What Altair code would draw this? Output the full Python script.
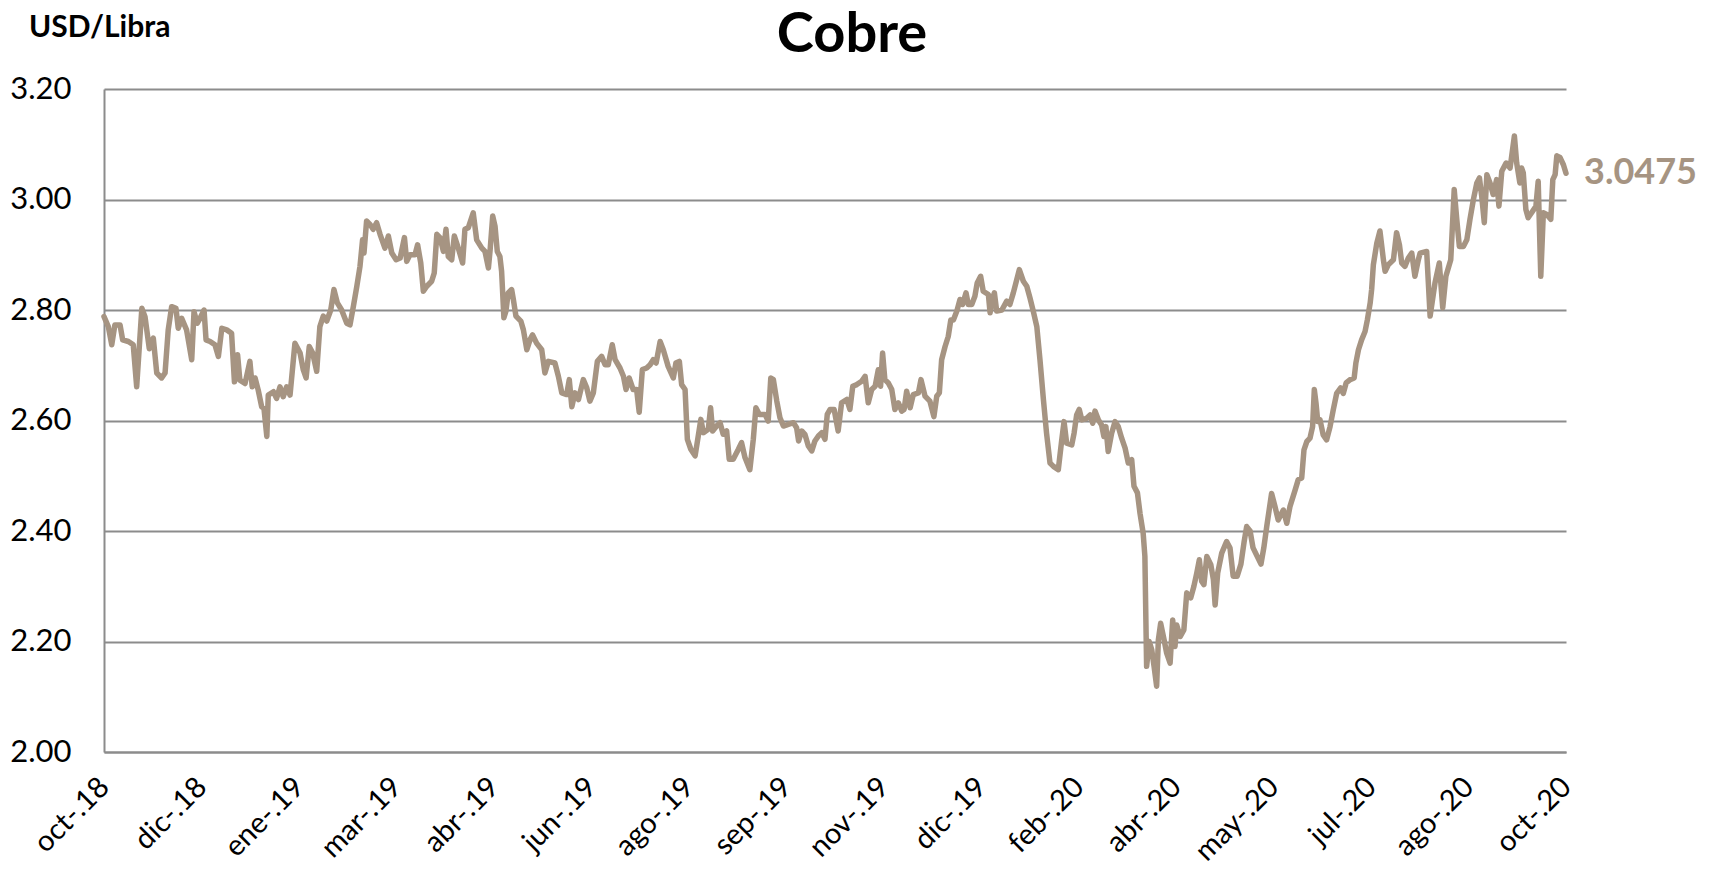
import altair as alt
import pandas as pd
import json

# Trading-day position (0 = start of oct-18, 510 = oct-20) and copper price USD/lb
t_days = [
    0.0, 1.5, 2.7, 3.8, 5.6, 6.5, 8.5, 10.2, 11.4, 13.2, 14.3, 15.8, 17.2, 18.4, 20.1, 21.3,
    22.4, 23.6, 25.1, 25.9, 27.1, 28.8, 30.6, 31.4, 32.5, 33.5, 34.9, 35.6, 37.0, 38.7, 39.9,
    41.1, 42.8, 44.5, 45.5, 46.6, 47.4, 49.2, 50.9, 51.7, 52.7, 53.8, 55.0, 55.8, 56.8, 57.3,
    59.1, 60.2, 61.4, 62.5, 63.7, 64.9, 66.6, 68.4, 69.5, 70.5, 71.6, 72.8, 74.2, 75.3, 76.5,
    77.7, 79.1, 80.2, 81.4, 82.9, 84.7, 85.8, 87.0, 88.2, 89.3, 90.2, 90.7, 91.6, 92.8, 93.9,
    95.1, 96.3, 98.0, 99.2, 100.4, 101.9, 103.3, 104.8, 105.6, 106.7, 108.5, 109.4, 110.5,
    111.4, 112.6, 114.3, 115.2, 116.1, 117.2, 118.4, 119.3, 120.1, 121.3, 122.2, 123.6, 125.1,
    125.9, 127.1, 128.8, 130.0, 131.8, 132.9, 134.1, 134.7, 135.6, 136.4, 137.2, 138.1, 138.7,
    139.5, 140.2, 141.0, 142.2, 142.8, 143.7, 145.4, 146.3, 147.5, 148.6, 149.5, 150.9, 152.7,
    153.8, 155.0, 157.3, 158.5, 159.7, 161.4, 162.3, 163.2, 164.3, 165.5, 167.2, 168.4, 169.5,
    170.7, 172.1, 173.6, 174.8, 175.9, 177.3, 178.3, 180.0, 181.2, 182.1, 183.2, 184.6, 185.8,
    186.7, 187.8, 189.3, 190.5, 191.6, 192.6, 194.0, 195.1, 196.8, 198.6, 199.5, 200.7, 201.5,
    202.7, 203.5, 204.7, 206.2, 207.3, 208.2, 209.1, 210.8, 211.6, 212.3, 213.7, 214.9, 216.0,
    217.2, 218.1, 219.5, 221.3, 222.4, 223.6, 225.3, 226.5, 227.4, 228.6, 230.6, 231.7, 232.6,
    233.5, 234.7, 235.8, 237.0, 238.7, 240.5, 241.6, 242.3, 243.4, 244.5, 245.7, 246.9, 248.0,
    249.2, 250.4, 251.5, 252.3, 253.3, 254.7, 256.1, 257.3, 259.1, 260.2, 261.2, 262.6, 264.3,
    265.5, 266.6, 267.8, 269.0, 270.1, 270.9, 271.6, 272.4, 273.6, 274.8, 275.9, 277.1, 278.3,
    279.1, 280.0, 281.2, 282.3, 284.1, 285.0, 286.4, 288.1, 289.5, 290.5, 291.4, 292.2, 293.4,
    294.5, 295.4, 296.3, 297.5, 298.6, 299.5, 300.7, 301.5, 302.7, 303.8, 304.6, 305.8, 306.7,
    308.5, 309.1, 309.7, 310.6, 311.4, 313.2, 314.9, 316.0, 317.2, 318.4, 319.3, 320.7, 321.9,
    323.0, 324.2, 325.4, 326.5, 327.7, 328.8, 330.0, 331.2, 332.9, 334.1, 334.9, 335.8, 337.6,
    338.4, 339.3, 340.2, 341.1, 342.8, 344.0, 344.9, 345.7, 346.9, 348.0, 348.8, 349.5, 350.3,
    351.5, 352.7, 353.8, 355.0, 356.2, 357.3, 358.5, 359.3, 360.5, 361.4, 362.5, 363.1, 363.7,
    364.6, 365.5, 366.3, 367.2, 367.8, 368.6, 369.8, 370.7, 371.9, 372.8, 373.6, 374.2, 375.4,
    376.7, 377.7, 379.1, 380.2, 381.2, 382.1, 382.9, 383.7, 384.7, 386.1, 387.0, 387.6, 388.5,
    389.9, 391.6, 392.8, 393.9, 395.3, 396.6, 397.7, 398.6, 399.8, 400.8, 402.2, 403.6, 404.6,
    405.6, 407.3, 408.5, 409.6, 411.4, 412.6, 413.7, 415.5, 416.6, 417.8, 418.6, 419.6, 420.7,
    421.6, 422.2, 422.8, 423.4, 424.2, 425.3, 426.5, 427.7, 428.8, 430.0, 431.4, 432.3, 433.3,
    434.7, 436.1, 436.7, 437.6, 438.7, 439.9, 440.7, 441.7, 442.2, 442.8, 444.0, 445.1, 446.3,
    446.9, 448.0, 449.8, 450.9, 451.9, 452.7, 453.8, 455.0, 456.2, 457.3, 458.5, 459.1, 461.4,
    462.6, 464.3, 465.8, 467.0, 468.1, 469.8, 471.0, 471.9, 472.8, 474.2, 475.4, 476.5, 477.7,
    478.9, 479.8, 480.6, 481.5, 482.4, 483.5, 484.6, 485.8, 486.6, 487.6, 489.1, 490.5, 492.0,
    492.8, 493.9, 494.5, 495.1, 496.0, 496.8, 498.0, 499.5, 500.3, 501.2, 502.1, 503.3, 504.7,
    505.4, 506.2, 506.8, 507.9, 509.1, 510.0,
]

price = [
    2.788, 2.770, 2.737, 2.773, 2.773, 2.746, 2.743, 2.737, 2.661, 2.803, 2.788, 2.730, 2.749, 2.686, 2.677, 2.686,
    2.764, 2.806, 2.803, 2.767, 2.785, 2.764, 2.710, 2.797, 2.776, 2.785, 2.800, 2.746, 2.743, 2.737, 2.716,
    2.767, 2.764, 2.758, 2.670, 2.719, 2.673, 2.667, 2.707, 2.661, 2.677, 2.655, 2.625, 2.622, 2.571, 2.646,
    2.652, 2.640, 2.661, 2.643, 2.661, 2.646, 2.740, 2.722, 2.692, 2.677, 2.734, 2.722, 2.689, 2.770, 2.789,
    2.780, 2.800, 2.837, 2.813, 2.800, 2.776, 2.773, 2.807, 2.843, 2.879, 2.927, 2.903, 2.961, 2.955, 2.946,
    2.958, 2.937, 2.912, 2.934, 2.903, 2.891, 2.894, 2.931, 2.888, 2.900, 2.900, 2.918, 2.885,
    2.834, 2.843, 2.852, 2.867, 2.937, 2.931, 2.906, 2.946, 2.897, 2.891, 2.934, 2.912, 2.885,
    2.946, 2.949, 2.976, 2.927, 2.912, 2.906, 2.876, 2.909, 2.970, 2.952, 2.906, 2.897, 2.870,
    2.786, 2.798, 2.831, 2.837, 2.819, 2.789, 2.780, 2.764, 2.728, 2.746, 2.755, 2.740, 2.728,
    2.686, 2.707, 2.704, 2.680, 2.650, 2.647, 2.674, 2.625, 2.650, 2.638, 2.674, 2.659, 2.635,
    2.650, 2.707, 2.716, 2.701, 2.701, 2.737, 2.710, 2.695, 2.680, 2.656, 2.677, 2.656, 2.656,
    2.615, 2.692, 2.695, 2.701, 2.710, 2.704, 2.743, 2.728, 2.698, 2.677, 2.704, 2.707, 2.665,
    2.656, 2.566, 2.548, 2.536, 2.572, 2.602, 2.578, 2.584, 2.623, 2.581, 2.590, 2.596, 2.575,
    2.581, 2.530, 2.530, 2.548, 2.560, 2.533, 2.511, 2.566, 2.623, 2.611, 2.611, 2.599, 2.677,
    2.674, 2.635, 2.605, 2.590, 2.593, 2.596, 2.587, 2.563, 2.581, 2.575, 2.554, 2.545, 2.563,
    2.572, 2.578, 2.566, 2.611, 2.620, 2.620, 2.581, 2.632, 2.638, 2.620, 2.662, 2.665, 2.671,
    2.680, 2.632, 2.656, 2.662, 2.692, 2.662, 2.722, 2.674, 2.668, 2.656, 2.620, 2.632, 2.617,
    2.620, 2.653, 2.623, 2.647, 2.650, 2.674, 2.644, 2.635, 2.607, 2.644, 2.650, 2.710, 2.734,
    2.752, 2.782, 2.782, 2.798, 2.819, 2.810, 2.831, 2.810, 2.810, 2.825, 2.849, 2.861, 2.834,
    2.828, 2.795, 2.816, 2.831, 2.798, 2.800, 2.816, 2.810, 2.831, 2.855, 2.873, 2.852, 2.843,
    2.822, 2.797, 2.770, 2.710, 2.638, 2.577, 2.523, 2.517, 2.511, 2.565, 2.598, 2.559, 2.556,
    2.577, 2.610, 2.620, 2.601, 2.604, 2.610, 2.595, 2.617, 2.601, 2.592, 2.571, 2.589, 2.544,
    2.577, 2.598, 2.589, 2.568, 2.550, 2.523, 2.529, 2.481, 2.469, 2.432, 2.396, 2.354, 2.155,
    2.200, 2.185, 2.155, 2.119, 2.203, 2.233, 2.203, 2.179, 2.161, 2.239, 2.191, 2.230, 2.209,
    2.221, 2.288, 2.279, 2.300, 2.324, 2.348, 2.309, 2.303, 2.354, 2.339, 2.312, 2.266, 2.324,
    2.360, 2.381, 2.369, 2.318, 2.318, 2.340, 2.380, 2.408, 2.400, 2.370, 2.355, 2.340, 2.370,
    2.408, 2.468, 2.444, 2.420, 2.438, 2.414, 2.444, 2.474, 2.493, 2.496, 2.547, 2.562, 2.568,
    2.589, 2.656, 2.631, 2.598, 2.601, 2.574, 2.565, 2.589, 2.619, 2.649, 2.659, 2.649, 2.668,
    2.674, 2.677, 2.704, 2.728, 2.746, 2.761, 2.782, 2.813, 2.837, 2.882, 2.921, 2.943, 2.891,
    2.870, 2.882, 2.891, 2.940, 2.918, 2.885, 2.879, 2.894, 2.903, 2.861, 2.891, 2.903, 2.906,
    2.789, 2.849, 2.885, 2.804, 2.861, 2.891, 3.018, 2.964, 2.915, 2.915, 2.927, 2.964, 3.000,
    3.030, 3.039, 3.006, 2.958, 3.045, 3.030, 3.009, 3.036, 2.988, 3.051, 3.066, 3.057, 3.115,
    3.066, 3.030, 3.057, 3.048, 2.982, 2.967, 2.976, 2.988, 3.033, 2.861, 2.976, 2.973, 2.964,
    3.036, 3.045, 3.079, 3.076, 3.063, 3.0475,
]

x_labels = ["oct-.18", "dic-.18", "ene-.19", "mar-.19", "abr-.19", "jun-.19", "ago-.19", "sep-.19",
            "nov-.19", "dic-.19", "feb-.20", "abr-.20", "may-.20", "jul-.20", "ago-.20", "oct-.20"]
label_step = 34
y_ticks = [2.0, 2.2, 2.4, 2.6, 2.8, 3.0, 3.2]

title_text = "Cobre"
unit_text = "USD/Libra"

LINE_COLOR = "#A69482"
GRID = "#8c8c8c"
FONT = "Lato"

df = pd.DataFrame({"t": t_days, "price": price})
last = df.tail(1)

W, H = 1462, 663

x_enc = alt.X(
    "t:Q",
    scale=alt.Scale(domain=[0, label_step * (len(x_labels) - 1)], nice=False, zero=False),
    axis=alt.Axis(
        values=[i * label_step for i in range(len(x_labels))],
        labelExpr=f"{json.dumps(x_labels)}[round(datum.value / {label_step})]",
        labelAngle=315, labelAlign="right", labelBaseline="middle",
        labelFontSize=29, labelFont=FONT, labelColor="black",
        labelPadding=30, labelOffset=0, labelOverlap=False, labelBound=False, labelFlush=False,
        ticks=False, grid=False, domain=True, domainColor=GRID, domainWidth=2, title=None,
    ),
)
y_enc = alt.Y(
    "price:Q",
    scale=alt.Scale(domain=[2.0, 3.2], nice=False, zero=False),
    axis=alt.Axis(
        values=y_ticks, format=".2f",
        labelFontSize=31, labelFont=FONT, labelColor="black", labelPadding=33,
        ticks=False, grid=True, gridColor=GRID, gridWidth=2,
        domain=True, domainColor=GRID, domainWidth=2, title=None,
    ),
)

line = alt.Chart(df).mark_line(
    color=LINE_COLOR, strokeWidth=5.5, strokeJoin="round", strokeCap="round", clip=False
).encode(x=x_enc, y=y_enc)

end_label = alt.Chart(last).mark_text(
    align="left", baseline="middle", dx=18, fontSize=36, fontWeight="bold",
    font=FONT, color=LINE_COLOR,
).encode(x="t:Q", y="price:Q", text=alt.Text("price:Q", format=".4f"))

title = alt.Chart(pd.DataFrame({"s": [title_text]})).mark_text(
    align="center", baseline="alphabetic", fontSize=56, fontWeight="bold",
    font=FONT, color="black",
).encode(x=alt.value(748), y=alt.value(-37), text="s:N")

unit = alt.Chart(pd.DataFrame({"s": [unit_text]})).mark_text(
    align="left", baseline="alphabetic", fontSize=30, fontWeight="bold",
    font=FONT, color="black",
).encode(x=alt.value(-75), y=alt.value(-52), text="s:N")

chart = alt.layer(line, end_label, title, unit).properties(
    width=W, height=H,
    autosize=alt.AutoSizeParams(type="none"),
    padding={"left": 96, "top": 81, "right": 130, "bottom": 118},
    background="white",
).configure_view(stroke=None)

chart.save("out.html", embed_options={"renderer": "svg", "actions": False})
